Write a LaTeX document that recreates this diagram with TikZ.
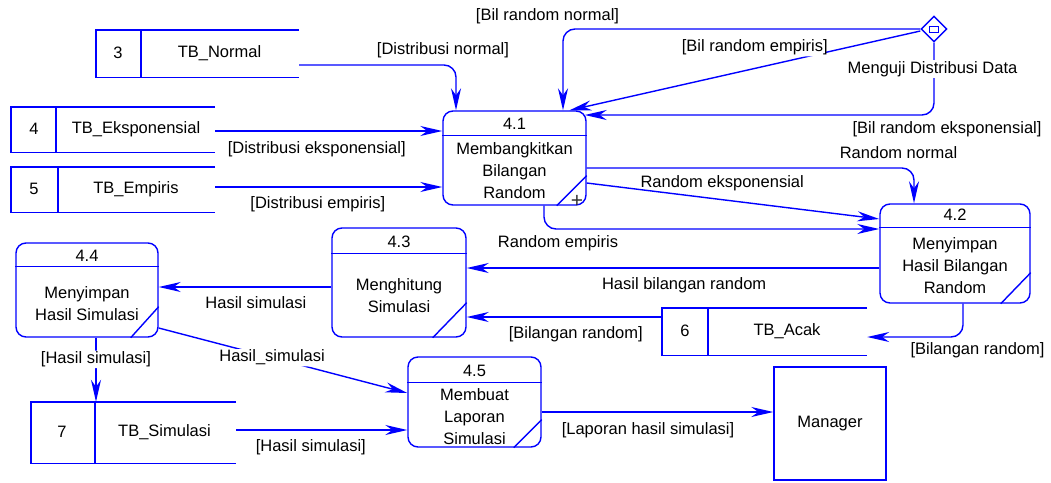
\documentclass[tikz,border=0pt]{standalone}
\usepackage{fontspec}
\setmainfont{Liberation Sans}
\usetikzlibrary{arrows.meta,shapes.geometric}

\begin{document}
\begin{tikzpicture}[x=1pt, y=-1pt, >={Stealth[length=22pt,width=10pt,inset=7pt]},
  every node/.style={font=\fontsize{16.5}{22}\selectfont},
  garis/.style={draw=blue, line width=1.4pt},
  proses/.style={garis, rounded corners=10pt, inner sep=0pt},
  simpan/.style={inner sep=0pt},
  alir/.style={garis, ->, rounded corners=12pt},
  ket/.style={inner sep=1pt},
  ketlatar/.style={ket, fill=white}]
  \useasboundingbox (0,0) rectangle (1051,482);

  % processes
  \node[proses, minimum width=143pt, minimum height=94pt] (p41) at (514.5,158) {};
  \draw[garis] ([yshift=-25pt]p41.north west) -- ([yshift=-25pt]p41.north east);
  \draw[garis] ([xshift=-30pt]p41.south east) -- ([yshift=30pt]p41.south east);
  \node (p41id) at (514.5,124) {4.1};
  \node[align=center] (p41isi) at (514.5,171) {Membangkitkan\\Bilangan\\Random};
  \node[inner sep=0pt, text=black!80, font=\fontsize{21}{21}\selectfont] (p41plus) at (577,201) {+};

  \node[proses, minimum width=150pt, minimum height=99pt] (p42) at (955,253.5) {};
  \draw[garis] ([yshift=-24pt]p42.north west) -- ([yshift=-24pt]p42.north east);
  \draw[garis] ([xshift=-30pt]p42.south east) -- ([yshift=31pt]p42.south east);
  \node (p42id) at (955,215) {4.2};
  \node[align=center] (p42isi) at (955,266) {Menyimpan\\Hasil Bilangan\\Random};

  \node[proses, minimum width=134pt, minimum height=109pt] (p43) at (399,282.5) {};
  \draw[garis] ([yshift=-26pt]p43.north west) -- ([yshift=-26pt]p43.north east);
  \draw[garis] ([xshift=-34pt]p43.south east) -- ([yshift=35pt]p43.south east);
  \node (p43id) at (399,242) {4.3};
  \node[align=center] (p43isi) at (399,296) {Menghitung\\Simulasi};

  \node[proses, minimum width=142pt, minimum height=94pt] (p44) at (87,290) {};
  \draw[garis] ([yshift=-24pt]p44.north west) -- ([yshift=-24pt]p44.north east);
  \draw[garis] ([xshift=-28pt]p44.south east) -- ([yshift=31pt]p44.south east);
  \node (p44id) at (87,256) {4.4};
  \node[align=center] (p44isi) at (87,304) {Menyimpan\\Hasil Simulasi};

  \node[proses, minimum width=133pt, minimum height=90pt] (p45) at (474.5,402) {};
  \draw[garis] ([yshift=-26pt]p45.north west) -- ([yshift=-26pt]p45.north east);
  \draw[garis] ([xshift=-28pt]p45.south east) -- ([yshift=28pt]p45.south east);
  \node (p45id) at (474.5,371) {4.5};
  \node[align=center] (p45isi) at (474.5,417) {Membuat\\Laporan\\Simulasi};

  % data stores
  \node[simpan, minimum width=203pt, minimum height=47pt] (s3) at (197.5,53.5) {};
  \draw[garis] (s3.north east) -- (s3.north west) -- (s3.south west) -- (s3.south east);
  \draw[garis] ([xshift=45pt]s3.north west) -- ([xshift=45pt]s3.south west);
  \node (s3id) at (118,53) {3};
  \node (s3nama) at (219.5,53) {TB\_Normal};

  \node[simpan, minimum width=204pt, minimum height=45pt] (s4) at (113,129.5) {};
  \draw[garis] (s4.north east) -- (s4.north west) -- (s4.south west) -- (s4.south east);
  \draw[garis] ([xshift=45pt]s4.north west) -- ([xshift=45pt]s4.south west);
  \node (s4id) at (34,129) {4};
  \node (s4nama) at (136,129) {TB\_Eksponensial};

  \node[simpan, minimum width=204pt, minimum height=45pt] (s5) at (113,189.5) {};
  \draw[garis] (s5.north east) -- (s5.north west) -- (s5.south west) -- (s5.south east);
  \draw[garis] ([xshift=47pt]s5.north west) -- ([xshift=47pt]s5.south west);
  \node (s5id) at (34,189) {5};
  \node (s5nama) at (136,189) {TB\_Empiris};

  \node[simpan, minimum width=205pt, minimum height=47pt] (s6) at (764.5,331.5) {};
  \draw[garis] (s6.north east) -- (s6.north west) -- (s6.south west) -- (s6.south east);
  \draw[garis] ([xshift=46pt]s6.north west) -- ([xshift=46pt]s6.south west);
  \node (s6id) at (685,331) {6};
  \node (s6nama) at (787,331) {TB\_Acak};

  \node[simpan, minimum width=205pt, minimum height=61pt] (s7) at (133.5,432.5) {};
  \draw[garis] (s7.north east) -- (s7.north west) -- (s7.south west) -- (s7.south east);
  \draw[garis] ([xshift=64pt]s7.north west) -- ([xshift=64pt]s7.south west);
  \node (s7id) at (62,432) {7};
  \node (s7nama) at (164.5,432) {TB\_Simulasi};

  % entity and decision
  \node[garis, minimum width=112pt, minimum height=113pt] (mgr) at (830,423.5) {Manager};
  \node[garis, diamond, minimum width=26pt, minimum height=26pt, inner sep=0pt] (uji) at (934,29) {};
  \node[garis, line width=1pt, minimum width=9pt, minimum height=6pt, inner sep=0pt] (ujikotak) at (uji) {};

  % flows
  \draw[alir] ([yshift=-11.5pt]s3.east) -| node[ket, pos=0.5, xshift=-13pt, yshift=15pt] (l1) {[Distribusi normal]} ([xshift=-58.5pt]p41.north);
  \draw[alir] ([yshift=-1.5pt]s4.east) -- node[ket, pos=0.447, yshift=-18pt] (l2) {[Distribusi eksponensial]} ([yshift=27pt]p41.west);
  \draw[alir] ([yshift=2.5pt]s5.east) -- node[ket, pos=0.452, yshift=-17pt] (l3) {[Distribusi empiris]} ([yshift=-29pt]p41.west);
  \draw[alir] (uji.west) -| node[ket, pos=0.5, xshift=-15.5pt, yshift=13pt] (l4) {[Bil random normal]} ([xshift=48.5pt]p41.north);
  \draw[alir] ([yshift=-2pt]uji.west) -- node[ketlatar, pos=0.472, yshift=20.8pt] (l5) {[Bil random empiris]} ([xshift=55pt]p41.north);
  \draw[alir] (uji.south) |- node[ket, pos=0.5, xshift=13pt, yshift=-14pt] (l6) {[Bil random eksponensial]} ([xshift=-2pt,yshift=43pt]p41.east);
  \node[ketlatar] (ujiket) at (932.5,69) {Menguji Distribusi Data};
  \draw[alir] ([yshift=-10pt]p41.east) -| node[ket, pos=0.5, xshift=-15.5pt, yshift=15pt] (l7) {Random normal} ([xshift=-41pt]p42.north);
  \draw[alir] ([yshift=-25pt]p41.east) -- node[ket, pos=0.463, yshift=16.7pt] (l8) {Random eksponensial} ([yshift=34.5pt]p42.west);
  \draw[alir] ([xshift=29.5pt]p41.south) |- node[ket, pos=0.5, xshift=14pt, yshift=-14pt] (l9) {Random empiris} ([yshift=24.5pt]p42.west);
  \draw[alir] ([yshift=-14.5pt]p42.west) -- node[ket, pos=0.473, yshift=-17pt] (l10) {Hasil bilangan random} ([yshift=14.5pt]p43.east);
  \draw[alir] ([xshift=8pt]p42.south) |- node[ket, pos=0.5, xshift=14.5pt, yshift=-13pt] (l11) {[Bilangan random]} ([yshift=-5.5pt]s6.east);
  \draw[alir] ([yshift=14.5pt]s6.west) -- node[ket, pos=0.441, yshift=-17pt] (l12) {[Bilangan random]} ([yshift=-34.5pt]p43.east);
  \draw[alir] ([yshift=-4.5pt]p43.west) -- node[ket, pos=0.437, yshift=-16pt] (l13) {Hasil simulasi} ([yshift=3pt]p44.east);
  \draw[alir] ([xshift=9pt]p44.south) -- node[ketlatar, pos=0.338] (l14) {[Hasil simulasi]} ([xshift=-37.5pt]s7.north);
  \draw[alir] ([yshift=-38pt]p44.east) -- node[ketlatar, pos=0.456] (l15) {Hasil\_simulasi} ([yshift=9pt]p45.west);
  \draw[alir] ([yshift=2.5pt]s7.east) -- node[ket, pos=0.436, yshift=-17pt] (l16) {[Hasil simulasi]} ([yshift=-28pt]p45.west);
  \draw[alir] ([yshift=-10pt]p45.east) -- node[ket, pos=0.459, yshift=-18pt] (l17) {[Laporan hasil simulasi]} ([yshift=11.5pt]mgr.west);
\end{tikzpicture}
\end{document}
